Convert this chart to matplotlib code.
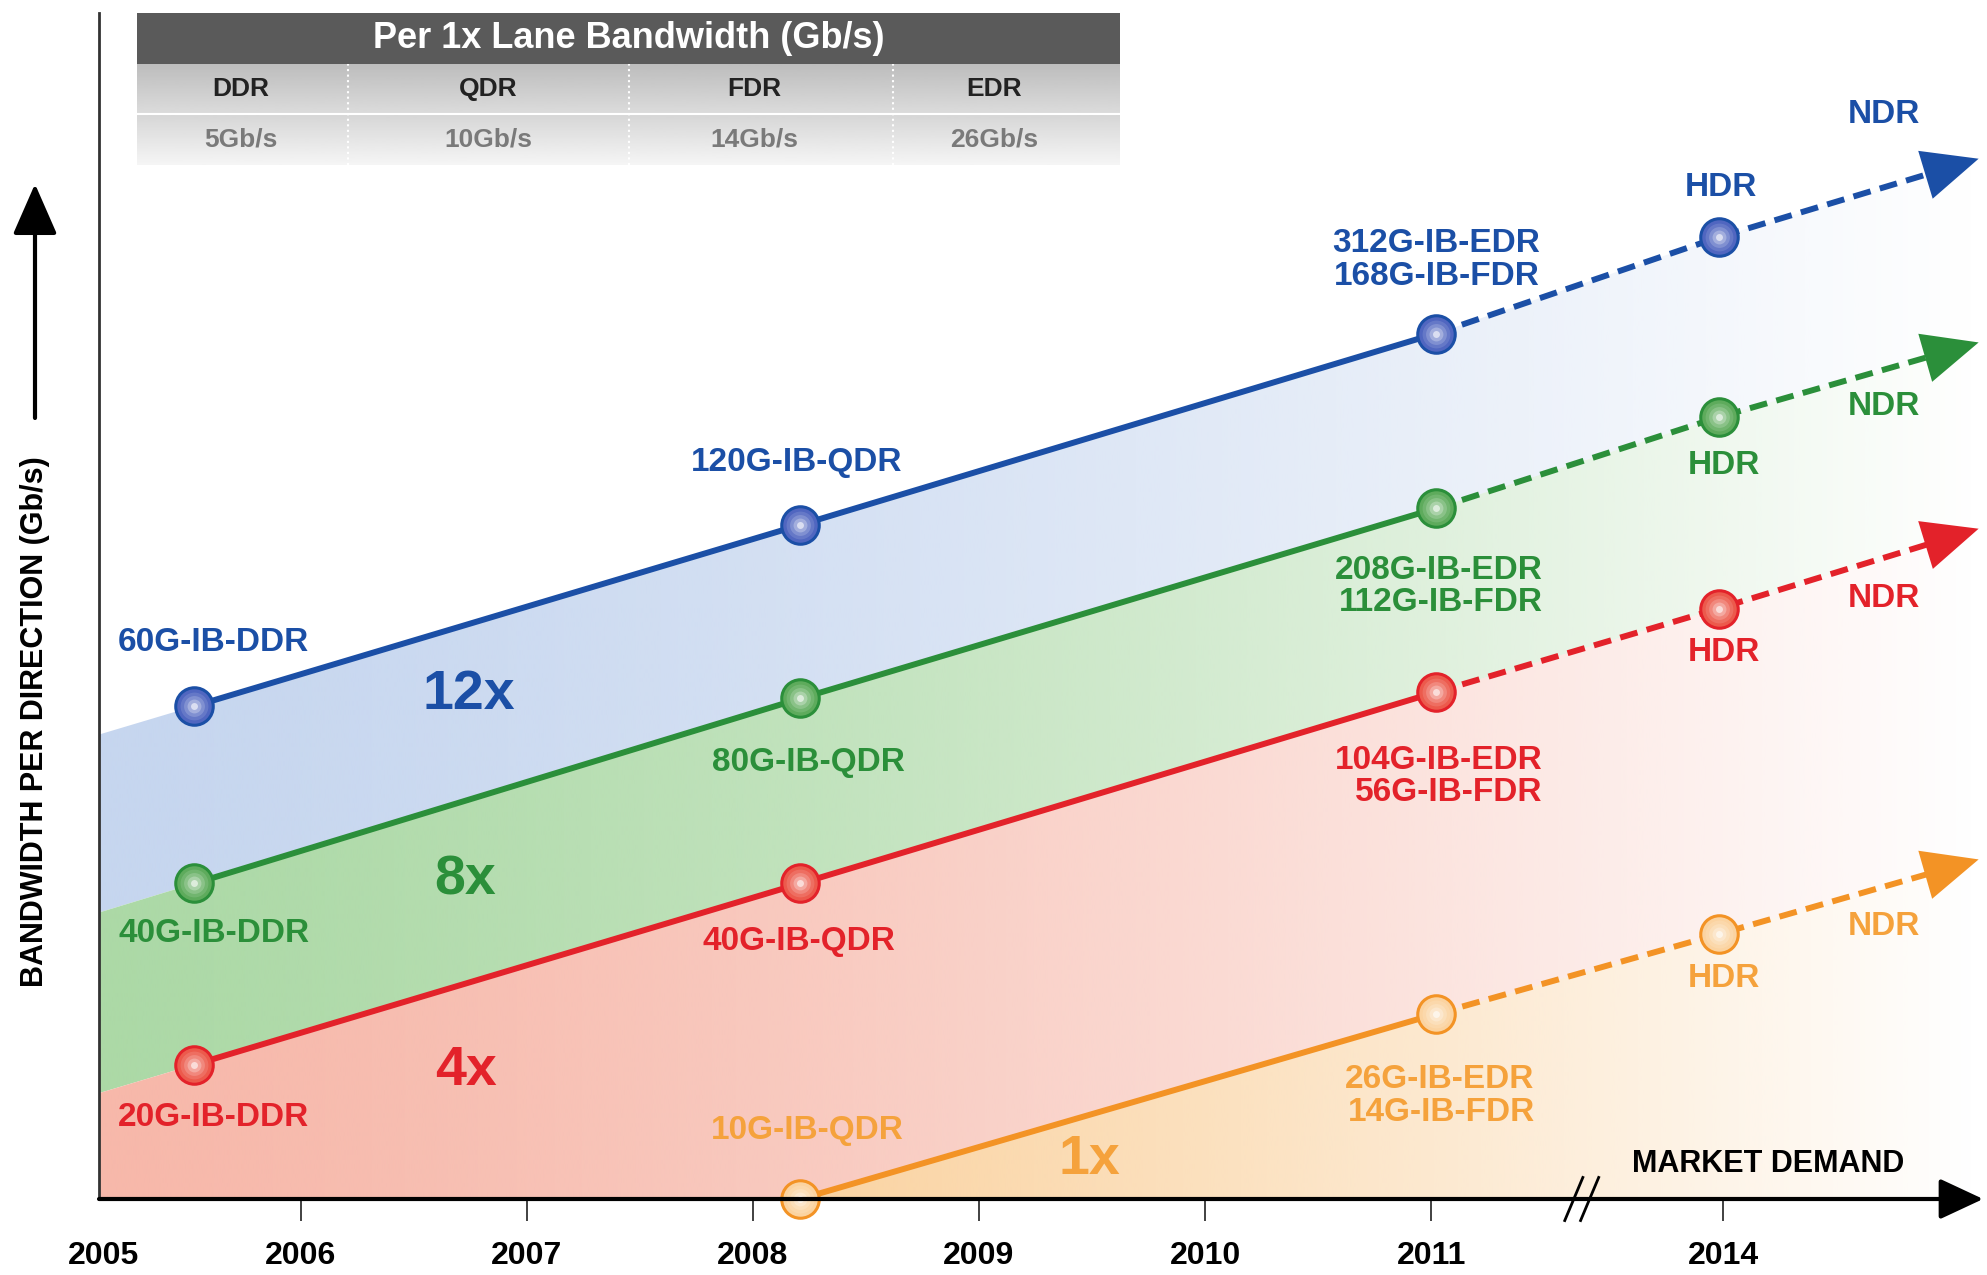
import numpy as np
import matplotlib.pyplot as plt
from matplotlib.patches import Rectangle, PathPatch
from matplotlib.colors import to_rgb

plt.rcParams['font.family'] = ['Liberation Sans', 'DejaVu Sans']
plt.rcParams['font.weight'] = 'bold'

# per-lane signalling rate table
rate_names = ['DDR', 'QDR', 'FDR', 'EDR']
lane_rate_gbps = [5, 10, 14, 26]

# broken time axis: 2006..2011 one unit apart, then a jump to 2014
year_labels = ['2005', '2006', '2007', '2008', '2009', '2010', '2011', '2014']
year_pos = [0.13, 1, 2, 3, 4, 5, 6, 7.29]
x_left, x_right = 0.109, 8.457
break_x = 6.63

# release positions: DDR, QDR, EDR/FDR, HDR, then the NDR arrow tip
stage_x = [0.53, 3.21, 6.02, 7.27]
ndr_x = 8.42

# relative bandwidth level per lane width (arbitrary units, axis = 0)
lanes = ['12x', '8x', '4x', '1x']
lane_count = [12, 8, 4, 1]
level_12x = [38.9, 53.2, 68.3, 75.9, 82.1]
level_8x = [24.9, 39.5, 54.5, 61.7, 67.6]
level_4x = [10.6, 24.9, 40.0, 46.6, 52.9]
level_1x = [np.nan, 0.0, 14.6, 20.9, 26.8]
levels = [level_12x, level_8x, level_4x, level_1x]

line_col = ['#1b4fa6', '#2b8f3a', '#e3222a', '#f39325']
text_col = ['#1b4fa6', '#2b8f3a', '#e3222a', '#f5a23c']
fill_col = ['#c6d6ef', '#acd9a6', '#f7b8aa', '#f9c583']
face_col = ['#5066c0', '#5eab5c', '#ec5a4c', '#fbd3a0']

# label offsets (points) from DDR, QDR, EDR, HDR markers and from the NDR tip
label_off = [
    [(14, 46), (-3, 45), (0, 53), (2, 36), (-68, 32)],
    [(14, -36), (6, -46), (2, -56), (4, -35), (-68, -46)],
    [(14, -38), (-1, -42), (2, -61), (4, -32), (-68, -50)],
    [None, (5, 49), (3, -59), (4, -32), (-68, -48)],
]
lane_label_pos = [(1.745, 39.8), (1.73, 25.1), (1.73, 10.1), (4.49, 3.1)]

fig = plt.figure(figsize=(19.87, 12.75), dpi=100)
ax = fig.add_axes([99 / 1987, 76 / 1275, 1 - 99 / 1987, 1186 / 1275])
ymax = 93.6

xs = np.array([x_left] + stage_x + [ndr_x])


def on_grid(lv):
    v = np.nan_to_num(np.array(lv, dtype=float), nan=0.0)
    if np.isnan(lv[0]):
        return np.concatenate([[0.0], v])
    slope = (v[1] - v[0]) / (stage_x[1] - stage_x[0])
    return np.concatenate([[v[0] - slope * (stage_x[0] - x_left)], v])


grid = [on_grid(lv) for lv in levels]

# gradient bands between neighbouring lines, fading to white on the right
xr = np.linspace(x_left, x_right, 500)
frac = (xr - x_left) / (ndr_x - x_left)
alpha = np.clip(1 - frac ** 1.4, 0, 1)
for i in range(len(lanes)):
    upper = grid[i]
    lower = grid[i + 1] if i + 1 < len(lanes) else np.zeros_like(upper)
    rgba = np.zeros((1, len(xr), 4))
    rgba[..., :3] = to_rgb(fill_col[i])
    rgba[..., 3] = alpha
    im = ax.imshow(rgba, extent=(x_left, x_right, 0, ymax), aspect='auto',
                   interpolation='bilinear', zorder=1)
    band = ax.fill_between(xs, lower, upper, facecolor='none', edgecolor='none')
    clip = PathPatch(band.get_paths()[0], transform=ax.transData,
                     facecolor='none', edgecolor='none')
    ax.add_patch(clip)
    im.set_clip_path(clip)

for i, lv in enumerate(levels):
    c = line_col[i]
    px = np.array(stage_x + [ndr_x])
    py = np.array(lv, dtype=float)
    ok = ~np.isnan(py)
    first = np.argmax(ok)
    ax.plot(px[first:3], py[first:3], color=c, lw=4.3, solid_capstyle='round', zorder=3)
    # projected roadmap: dashed, ending under the arrow head
    end_x = px[3] + 0.82 * (px[4] - px[3])
    end_y = py[3] + 0.82 * (py[4] - py[3])
    ax.plot([px[2], px[3], end_x], [py[2], py[3], end_y], color=c, lw=4.3,
            linestyle=(0, (3, 1.6)), zorder=3, clip_on=False)
    ax.annotate('', xy=(px[4], py[4]), xytext=(px[3], py[3]),
                arrowprops=dict(arrowstyle='-|>,head_length=0.8,head_width=0.36',
                                mutation_scale=50, facecolor=c, edgecolor=c, lw=0,
                                shrinkA=0, shrinkB=0, clip_on=False),
                annotation_clip=False, zorder=4)
    # shaded spheres: base disc plus stacked translucent highlights
    mx, my = px[first:4], py[first:4]
    ax.scatter(mx, my, s=27 ** 2, facecolor=face_col[i], edgecolor=c, lw=2.2, zorder=5, clip_on=False)
    for size, a in [(20, 0.12), (15, 0.18), (10, 0.28), (5, 0.6)]:
        ax.scatter(mx, my, s=size ** 2, facecolor='white', alpha=a, lw=0, zorder=5, clip_on=False)

    # product names built from lane count x per-lane rate
    n = lane_count[i]
    names = [f'{n * lane_rate_gbps[0]}G-IB-DDR',
             f'{n * lane_rate_gbps[1]}G-IB-QDR',
             f'{n * lane_rate_gbps[3]}G-IB-EDR\n{n * lane_rate_gbps[2]}G-IB-FDR',
             'HDR', 'NDR']
    for k in range(5):
        if label_off[i][k] is None or np.isnan(py[k]):
            continue
        ax.annotate(names[k], (px[k], py[k]), xytext=label_off[i][k],
                    textcoords='offset points', ha='center', va='center',
                    color=text_col[i], fontsize=24, linespacing=1.05,
                    multialignment='right', zorder=6, annotation_clip=False)
    ax.text(*lane_label_pos[i], lanes[i], color=text_col[i], fontsize=40,
            ha='center', va='center', zorder=6)

ax.text(7.49, 2.8, 'MARKET DEMAND', fontsize=22, ha='center', va='center', zorder=6)

# axes
ax.set_xlim(x_left, x_right)
ax.set_ylim(0, ymax)
for s in ['top', 'right', 'bottom']:
    ax.spines[s].set_visible(False)
ax.spines['left'].set_linewidth(2)
ax.spines['left'].set_color('#333333')
ax.set_yticks([])
ax.set_xticks(year_pos)
ax.set_xticklabels(year_labels)
ax.tick_params(axis='x', length=16, width=1.3, color='#333333', pad=14, labelsize=23)
ax.xaxis.get_major_ticks()[0].tick1line.set_visible(False)
ax.annotate('', xy=(8.44, 0), xytext=(x_left, 0),
            arrowprops=dict(arrowstyle='-|>,head_length=0.9,head_width=0.42',
                            mutation_scale=30, color='black', lw=3,
                            shrinkA=0, shrinkB=0, clip_on=False),
            annotation_clip=False, zorder=7)
for dx in [0, 0.07]:
    ax.plot([break_x - 0.04 + dx, break_x + 0.04 + dx], [-1.7, 1.7], color='black',
            lw=2, zorder=8, clip_on=False)

fig.text(35 / 1987, 1 - 722 / 1275, 'BANDWIDTH PER DIRECTION (Gb/s)', rotation=90,
         ha='center', va='center', fontsize=22)
ax.annotate('', xy=(35, 1091), xytext=(35, 857), xycoords='figure pixels',
            arrowprops=dict(arrowstyle='-|>,head_length=1.05,head_width=0.46',
                            mutation_scale=30, color='black', lw=3,
                            shrinkA=0, shrinkB=0),
            annotation_clip=False)

# per-lane bandwidth table
tab = fig.add_axes([137 / 1987, 1 - 165 / 1275, 983 / 1987, 152 / 1275])
tab.set_xlim(0, 1)
tab.set_ylim(0, 3)
tab.axis('off')
tab.add_patch(Rectangle((0, 2), 1, 1, color='#5a5a5a', lw=0))
tab.imshow(np.linspace(0.74, 0.86, 50).reshape(-1, 1), cmap='gray', vmin=0, vmax=1,
           extent=(0, 1, 1, 2), aspect='auto')
tab.imshow(np.linspace(0.84, 0.96, 50).reshape(-1, 1), cmap='gray', vmin=0, vmax=1,
           extent=(0, 1, 0, 1), aspect='auto')
tab.set_xlim(0, 1)
tab.set_ylim(0, 3)
tab.hlines(1, 0, 1, colors='white', lw=1.5)
tab.vlines([0.215, 0.5, 0.769], 0, 2, colors='white', lw=1.5, linestyles=':')
tab.text(0.5, 2.5, 'Per 1x Lane Bandwidth (Gb/s)', color='white', fontsize=26,
         ha='center', va='center')
col_x = [0.106, 0.357, 0.628, 0.872]
for cx, name, r in zip(col_x, rate_names, lane_rate_gbps):
    tab.text(cx, 1.5, name, color='#222222', fontsize=19, ha='center', va='center')
    tab.text(cx, 0.5, f'{r}Gb/s', color='#7a7a7a', fontsize=19, ha='center', va='center')

fig.savefig('out.png', dpi=100)
